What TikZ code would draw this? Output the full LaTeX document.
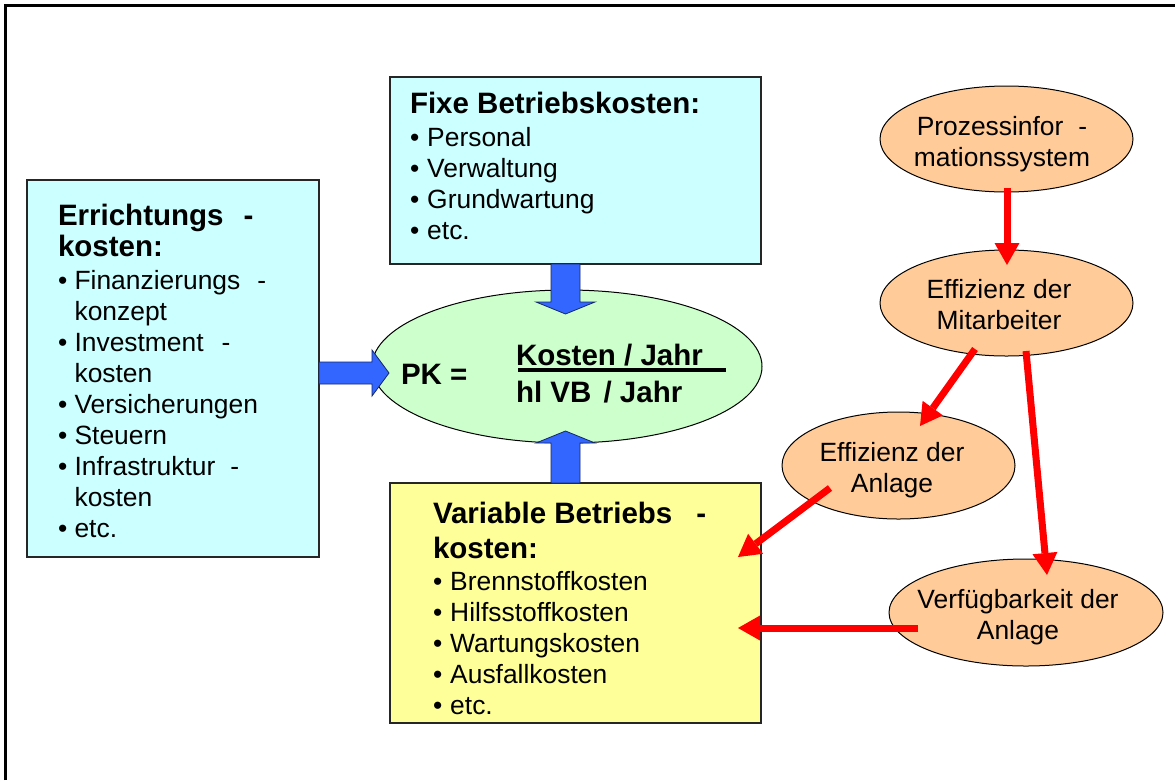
\documentclass[tikz,border=0pt]{standalone}
\usepackage{fontspec}
\setmainfont{Liberation Sans}
\usetikzlibrary{arrows.meta,calc,shapes.geometric}
\definecolor{cyanbox}{HTML}{CCFFFF}
\definecolor{yelbox}{HTML}{FFFF99}
\definecolor{greenell}{HTML}{CCFFCC}
\definecolor{orangeell}{HTML}{FFCC99}
\definecolor{bluearr}{HTML}{3366FF}
\definecolor{redarr}{HTML}{FF0000}
\newcommand{\hd}{\fontsize{29.5}{31}\selectfont\bfseries}
\newcommand{\bl}{•\ }
\newcommand{\blw}{•\hspace{8pt}}
\begin{document}
\begin{tikzpicture}[x=1pt,y=-1pt,
  boxst/.style={draw=black!85, line width=1.2pt, inner sep=0pt, outer sep=0pt},
  ellst/.style={ellipse, draw=black, line width=1pt, inner sep=0pt, outer sep=0pt},
  txt/.style={inner sep=0pt, outer sep=0pt, font=\fontsize{26.4}{31}\selectfont},
  redarrow/.style={draw=redarr, line width=7pt, -{Triangle[length=22pt,width=25pt,line width=0pt]}},
  blockarr/.style={fill=bluearr, draw=black!60!bluearr, line width=0.8pt, line join=miter}]
\useasboundingbox (0,0) rectangle (1175,780);
\fill[white] (0,0) rectangle (1175,780);
% frame
\draw[line width=2.5pt] (5.5,780) -- (5.5,5.5) -- (1175,5.5);

% boxes and ellipses
\node[boxst, fill=cyanbox, minimum width=292pt, minimum height=377pt] (errb) at (173,368.5) {};
\node[boxst, fill=cyanbox, minimum width=371pt, minimum height=187pt] (fixb) at (575.5,170.5) {};
\node[boxst, fill=yelbox, minimum width=371pt, minimum height=240pt] (varb) at (575.5,603) {};
\node[ellst, fill=greenell, minimum width=390pt, minimum height=153pt] (ell) at (567,366.5) {};
\node[ellst, fill=orangeell, minimum width=253pt, minimum height=106pt] (proz) at (1006.5,139) {};
\node[ellst, fill=orangeell, minimum width=253pt, minimum height=106pt] (mit) at (1006.5,303) {};
\node[ellst, fill=orangeell, minimum width=233pt, minimum height=107pt] (anl) at (898.5,465.5) {};
\node[ellst, fill=orangeell, minimum width=274pt, minimum height=107pt] (ver) at (1026,612.5) {};

% texts
\node[txt, anchor=base west] (errt) at (58,225) {\begin{tabular}[t]{@{}l@{}}
{\hd Errichtungs\hspace{20pt}-}\\
{\hd kosten:}\\[2pt]
\bl Finanzierungs\hspace{17pt}-\\
\hphantom{\bl}konzept\\
\bl Investment\hspace{18pt}-\\
\hphantom{\bl}kosten\\
\bl Versicherungen\\
\bl Steuern\\
\bl Infrastruktur\hspace{15pt}-\\
\hphantom{\bl}kosten\\
\bl etc.
\end{tabular}};

\node[txt, anchor=base west] (fixt) at (410,113) {\begin{tabular}[t]{@{}l@{}}
{\hd Fixe Betriebskosten:}\\[2pt]
\blw Personal\\
\blw Verwaltung\\
\blw Grundwartung\\
\blw etc.
\end{tabular}};

\node[txt, anchor=base west] (vart) at (433,523) {\begin{tabular}[t]{@{}l@{}}
{\hd Variable Betriebs\hspace{24pt}-}\\[4pt]
{\hd kosten:}\\[1pt]
\blw Brennstoffkosten\\
\blw Hilfsstoffkosten\\
\blw Wartungskosten\\
\blw Ausfallkosten\\
\blw etc.
\end{tabular}};

\node[txt, anchor=base west, font=\hd] (pk) at (401,384) {PK =};
\node[txt, anchor=base west, font=\hd] (kj) at (516,365) {Kosten / Jahr};
\node[txt, anchor=base west, font=\hd] (hl) at (516,402) {hl VB\hspace{4pt} / Jahr};
\draw[line width=3.5pt] ($(kj.base west)+(2,5)$) -- ($(kj.base west)+(210,5)$);

\node[txt, anchor=base] (prozt) at (1002,135) {\begin{tabular}[t]{@{}c@{}}Prozessinfor\hspace{15pt}-\\ mationssystem\end{tabular}};
\node[txt, anchor=base] (mitt) at (999,298) {\begin{tabular}[t]{@{}c@{}}Effizienz der\\ Mitarbeiter\end{tabular}};
\node[txt, anchor=base] (anlt) at (892,461) {\begin{tabular}[t]{@{}c@{}}Effizienz der\\ Anlage\end{tabular}};
\node[txt, anchor=base] (vert) at (1018,608) {\begin{tabular}[t]{@{}c@{}}Verfügbarkeit der\\ Anlage\end{tabular}};

% blue block arrows
\coordinate (ta) at ($(ell.north |- fixb.south)+(-1.5,0)$);
\draw[blockarr] ($(ta)+(-14.5,0)$) -- ($(ta)+(-14.5,38)$) -- ($(ta)+(-29.5,38)$) -- ($(ta)+(0,50)$) -- ($(ta)+(29.5,38)$) -- ($(ta)+(14.5,38)$) -- ($(ta)+(14.5,0)$) -- cycle;
\coordinate (tb) at ($(ell.south |- varb.north)+(-1.5,0)$);
\draw[blockarr] ($(tb)+(-14.5,0)$) -- ($(tb)+(-14.5,-40)$) -- ($(tb)+(-29.5,-40)$) -- ($(tb)+(0,-52)$) -- ($(tb)+(29.5,-40)$) -- ($(tb)+(14.5,-40)$) -- ($(tb)+(14.5,0)$) -- cycle;
\coordinate (tl) at ($(errb.east |- ell.center)+(0,6.5)$);
\draw[blockarr] ($(tl)+(0,-11)$) -- ($(tl)+(53,-11)$) -- ($(tl)+(53,-23)$) -- ($(tl)+(70,0)$) -- ($(tl)+(53,23)$) -- ($(tl)+(53,11)$) -- ($(tl)+(0,11)$) -- cycle;

% red arrows
\draw[redarrow] ($(proz.center)+(0.5,49)$) -- ($(mit.north)+(0.5,15)$);
\draw[redarrow] ($(mit.center)+(-31.5,46)$) -- ($(anl.center)+(21.5,-39.5)$);
\draw[redarrow] ($(mit.center)+(19.5,48)$) -- ($(ver.center)+(21,-37.5)$);
\draw[redarrow] ($(anl.center)+(-68.5,22.5)$) -- ($(varb.east)+(-23,-46)$);
\draw[redarrow] ($(ver.center)+(-108,15.5)$) -- ($(varb.east)+(-23,25)$);
\end{tikzpicture}
\end{document}
